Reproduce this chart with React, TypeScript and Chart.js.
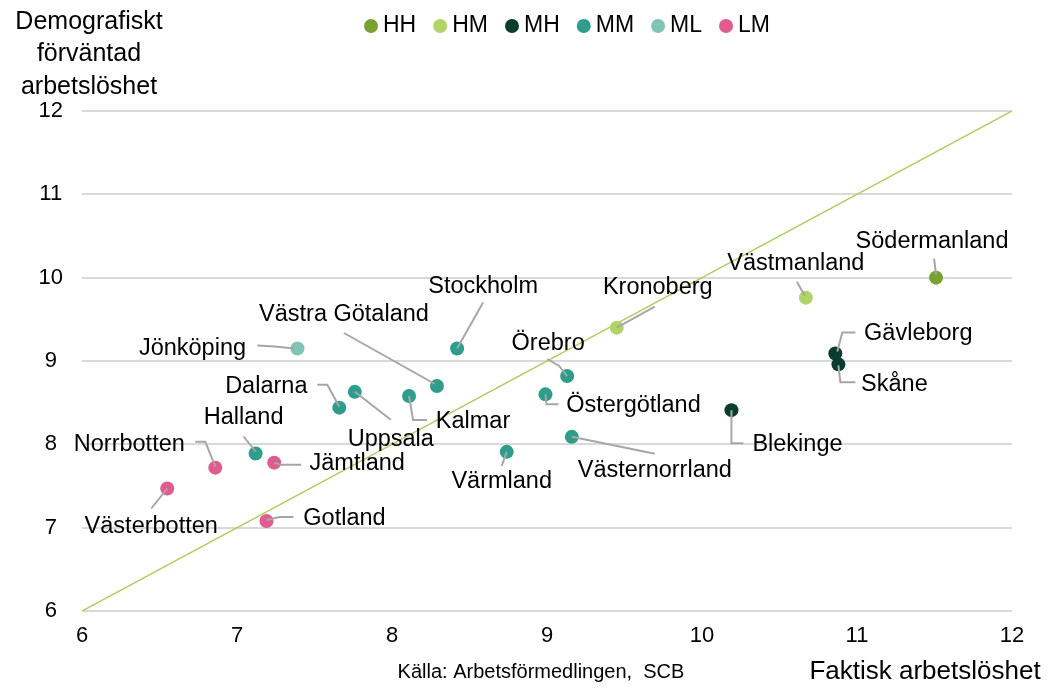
import React, { useEffect, useRef } from "react";
import { Chart, registerables } from "chart.js";

Chart.register(...registerables);

// ---------- data ----------
const regions = [
  "Södermanland", "Västmanland", "Kronoberg", "Gävleborg", "Skåne", "Blekinge",
  "Stockholm", "Jönköping", "Västra Götaland", "Örebro", "Östergötland", "Dalarna",
  "Uppsala", "Kalmar", "Halland", "Värmland", "Västernorrland", "Norrbotten",
  "Jämtland", "Västerbotten", "Gotland",
];
// Faktisk arbetslöshet (x)
const actual = [
  11.51, 10.67, 9.45, 10.86, 10.88, 10.19,
  8.42, 7.39, 8.29, 9.13, 8.99, 7.66,
  7.76, 8.11, 7.12, 8.74, 9.16, 6.86,
  7.24, 6.55, 7.19,
];
// Demografiskt förväntad arbetslöshet (y)
const expected = [
  10.0, 9.76, 9.4, 9.09, 8.96, 8.41,
  9.15, 9.15, 8.7, 8.82, 8.6, 8.44,
  8.63, 8.58, 7.89, 7.91, 8.09, 7.72,
  7.78, 7.47, 7.08,
];
const groupOf = [
  "HH", "HM", "HM", "MH", "MH", "MH",
  "MM", "ML", "MM", "MM", "MM", "MM",
  "MM", "MM", "MM", "MM", "MM", "LM",
  "LM", "LM", "LM",
];
const groups = ["HH", "HM", "MH", "MM", "ML", "LM"];
const axisTicks = [6, 7, 8, 9, 10, 11, 12];
const diagonal = [6, 12];

const yTitleLines = ["Demografiskt", "förväntad", "arbetslöshet"];
const xTitle = "Faktisk arbetslöshet";
const sourceText = "Källa: Arbetsförmedlingen,  SCB";

// ---------- styles / layout ----------
const groupColors: Record<string, string> = {
  HH: "#78a22f",
  HM: "#b2d366",
  MH: "#0b3d2f",
  MM: "#2e9e8a",
  ML: "#80c4b7",
  LM: "#e05b8f",
};
const FONT = '"Liberation Sans", Arial, sans-serif';

// label offset (text centre) and leader path, relative to the point's pixel position
const labelLayout: Record<string, { t: [number, number]; p: [number, number][] }> = {
  "Södermanland": { t: [-4, -36], p: [[-2, -19], [0, -3]] },
  "Västmanland": { t: [-10, -34], p: [[-9, -16], [-1, -2]] },
  "Kronoberg": { t: [41, -40], p: [[0, 0], [38, -21]] },
  "Gävleborg": { t: [83, -20], p: [[2, -2], [7, -21], [20, -21]] },
  "Skåne": { t: [56, 20], p: [[0, 1], [2, 18], [17, 18]] },
  "Blekinge": { t: [66, 34], p: [[0, 0], [0, 33], [12, 33]] },
  "Stockholm": { t: [26, -62], p: [[0, 0], [26, -46]] },
  "Jönköping": { t: [-105, 0], p: [[-40, -3], [-23, -2], [-3, 0]] },
  "Västra Götaland": { t: [-93, -71], p: [[-93, -53], [-2, -2]] },
  "Örebro": { t: [-19, -32], p: [[-20, -17], [-8, -10], [0, 0]] },
  "Östergötland": { t: [88, 11], p: [[0, 0], [1, 10], [13, 10]] },
  "Dalarna": { t: [-73, -21], p: [[-22, -23], [-12, -23], [0, -1]] },
  "Uppsala": { t: [36, 48], p: [[0, 0], [36, 28]] },
  "Kalmar": { t: [64, 26], p: [[0, 0], [4, 24], [18, 24]] },
  "Halland": { t: [-12, -36], p: [[-12, -17], [0, -2]] },
  "Värmland": { t: [-5, 30], p: [[0, 0], [-5, 14]] },
  "Västernorrland": { t: [83, 34], p: [[0, 0], [83, 17]] },
  "Norrbotten": { t: [-86, -23], p: [[-20, -26], [-10, -26], [0, -1]] },
  "Jämtland": { t: [83, 1], p: [[0, 0], [7, 2], [27, 2]] },
  "Västerbotten": { t: [-16, 38], p: [[0, 0], [-16, 20]] },
  "Gotland": { t: [78, -2], p: [[0, -1], [13, -4], [27, -4]] },
};

const annotationsPlugin = {
  id: "annotations",
  afterDatasetsDraw(chart: any) {
    const ctx = chart.ctx as CanvasRenderingContext2D;
    ctx.save();
    chart.data.datasets.forEach((ds: any, di: number) => {
      if (!ds.names) return;
      const meta = chart.getDatasetMeta(di);
      meta.data.forEach((el: any, i: number) => {
        const name = ds.names[i];
        const lay = labelLayout[name];
        if (!lay) return;
        const px = el.x, py = el.y;
        ctx.strokeStyle = "#a6a6a6";
        ctx.lineWidth = 2;
        ctx.beginPath();
        lay.p.forEach(([dx, dy], k) => {
          if (k === 0) ctx.moveTo(px + dx, py + dy);
          else ctx.lineTo(px + dx, py + dy);
        });
        ctx.stroke();
        ctx.fillStyle = "#000";
        ctx.font = `23.5px ${FONT}`;
        ctx.textAlign = "center";
        ctx.textBaseline = "middle";
        ctx.fillText(name, px + lay.t[0], py + lay.t[1]);
      });
    });
    ctx.restore();
  },
  afterDraw(chart: any) {
    const ctx = chart.ctx as CanvasRenderingContext2D;
    ctx.save();
    // y-axis title
    ctx.fillStyle = "#000";
    ctx.font = `25px ${FONT}`;
    ctx.textAlign = "center";
    ctx.textBaseline = "middle";
    yTitleLines.forEach((line, i) => ctx.fillText(line, 89, 22 + i * 32.5));
    // x-axis title
    ctx.font = `26px ${FONT}`;
    ctx.fillText(xTitle, 925, 672, 240);
    // source
    ctx.font = `20px ${FONT}`;
    ctx.fillText(sourceText, 541, 672, 297);
    // legend
    ctx.font = `23px ${FONT}`;
    ctx.textAlign = "left";
    let x = 371;
    groups.forEach((g) => {
      ctx.fillStyle = groupColors[g];
      ctx.beginPath();
      ctx.arc(x, 26, 7, 0, Math.PI * 2);
      ctx.fill();
      ctx.fillStyle = "#000";
      ctx.fillText(g, x + 12, 26);
      x += 12 + ctx.measureText(g).width + 24;
    });
    ctx.restore();
  },
};

export default function App() {
  const ref = useRef<HTMLCanvasElement | null>(null);
  useEffect(() => {
    if (!ref.current) return;
    const pointSets = groups.map((g) => {
      const idx = regions.map((_, i) => i).filter((i) => groupOf[i] === g);
      return {
        type: "scatter" as const,
        label: g,
        names: idx.map((i) => regions[i]),
        data: idx.map((i) => ({ x: actual[i], y: expected[i] })),
        backgroundColor: groupColors[g],
        borderWidth: 0,
        pointRadius: 7,
        pointHoverRadius: 7,
        order: 1,
      };
    });
    const chart = new Chart(ref.current, {
      type: "scatter",
      data: {
        datasets: [
          {
            type: "line",
            label: "diagonal",
            data: diagonal.map((v) => ({ x: v, y: v })),
            borderColor: "#a8cf5c",
            borderWidth: 1.5,
            pointRadius: 0,
            order: 5,
          } as any,
          ...(pointSets as any[]),
        ],
      },
      options: {
        animation: false,
        responsive: false,
        events: [],
        layout: { padding: { top: 111, right: 40, bottom: 0, left: 0 } },
        plugins: { legend: { display: false }, tooltip: { enabled: false } },
        scales: {
          x: {
            type: "linear",
            min: 6,
            max: 12,
            afterFit: (s: any) => { s.height = 78; },
            afterBuildTicks: (s: any) => { s.ticks = axisTicks.map((v) => ({ value: v })); },
            grid: { display: false, drawTicks: false },
            border: { display: false },
            ticks: { color: "#000", font: { family: FONT, size: 22 }, padding: 12 },
          },
          y: {
            type: "linear",
            min: 6,
            max: 12,
            afterFit: (s: any) => { s.width = 82; },
            afterBuildTicks: (s: any) => { s.ticks = axisTicks.map((v) => ({ value: v })); },
            grid: { color: "#d9d9d9", lineWidth: 2, drawTicks: false },
            border: { display: false },
            ticks: { color: "#000", font: { family: FONT, size: 22 }, padding: 19, crossAlign: "center" },
          },
        },
      },
      plugins: [annotationsPlugin],
    } as any);
    return () => chart.destroy();
  }, []);
  return (
    <div style={{ position: "absolute", left: 0, top: 0, width: 1052, height: 689, background: "#fff" }}>
      <canvas ref={ref} width={1052} height={689} style={{ width: 1052, height: 689, display: "block" }} />
    </div>
  );
}
